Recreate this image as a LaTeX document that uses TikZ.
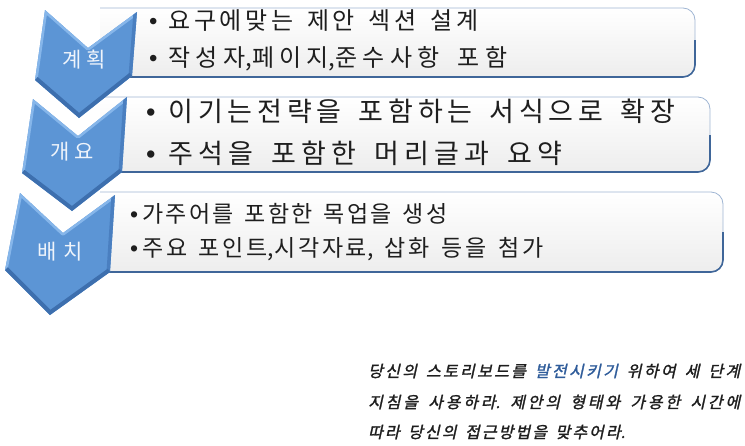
\documentclass[tikz,border=0pt]{standalone}
\usepackage{fontspec}
\setmainfont{Noto Sans CJK KR}
\newfontfamily\notefont[FakeSlant=0.22,FakeBold=1.6]{Noto Sans CJK KR}
\newfontfamily\bulletfont{Liberation Sans}
% stretchable gap between Hangul syllables
\newXeTeXintercharclass\hclass
\newcount\hcnt
\hcnt="AC00
\loop
  \XeTeXcharclass\hcnt=\hclass
  \advance\hcnt by 1
\ifnum\hcnt<"D7A4 \repeat
\newskip\hgap
\hgap=0pt plus 1pt
\XeTeXinterchartoks\hclass\hclass={\hskip\hgap}
\XeTeXinterchartokenstate=1
\definecolor{chev}{HTML}{5C95D5}
\definecolor{chevdark}{HTML}{3D6FAE}
\definecolor{chevright}{HTML}{4A7FC0}
\definecolor{chevlight}{HTML}{86B6EA}
\definecolor{boxedge}{HTML}{9FB5D3}
\definecolor{boxbottom}{HTML}{3F6699}
\definecolor{txt}{HTML}{1E1E1E}
\definecolor{hl}{HTML}{2F5C9A}
\newcommand\spreadline[2]{\makebox[#1][s]{#2}}
\newcommand\bul{{\bulletfont •}}
\newcommand\setsp{\frenchspacing\spaceskip=0.2em plus 2.5pt\relax}
% chevron with bevel: top-left, notch, top-right, right-bottom, tip, left-bottom
\newcommand\chevronshape[6]{%
  \fill[chev] #1 -- #2 -- #3 -- #4 -- #5 -- #6 -- cycle;
  \begin{scope}
    \clip #1 -- #2 -- #3 -- #4 -- #5 -- #6 -- cycle;
    \draw[chevlight, line width=5pt, line join=round] #6 -- #1 -- #2 -- #3;
    \draw[chevright, line width=7pt] #3 -- #4;
    \draw[chevdark, line width=8pt, line join=round] #4 -- #5 -- #6;
  \end{scope}}
\tikzset{
  boxshape/.style={top color=white, bottom color=gray!14, draw=boxedge, line width=0.8pt, rounded corners=12pt},
  boxbot/.style={draw=boxbottom, line width=1.6pt, rounded corners=12pt},
  chevlabel/.style={text=white!90!chev, font={\fontsize{21}{21}\selectfont\setsp}, inner sep=0pt},
  itemtxt/.style={text=txt, anchor=west, inner sep=0pt},
  sizeA/.style={font={\fontsize{24}{24}\selectfont\setsp}},
  sizeB/.style={font={\fontsize{27}{27}\selectfont\setsp}},
  sizeC/.style={font={\fontsize{23}{23}\selectfont\setsp}},
  noteline/.style={text=txt, anchor=west, inner sep=0pt, font={\notefont\fontsize{16}{16}\selectfont\setsp}},
}
\begin{document}
\begin{tikzpicture}[x=1pt,y=-1pt]
\useasboundingbox (0,0) rectangle (745,445);
% boxes
\path[boxshape] (100,8) -- (695,8) -- (695,77) -- (100,77);
\path[boxbot] (130,77) -- (695,77) -- (695,40);
\path[boxshape] (100,97) -- (710,97) -- (710,172) -- (100,172);
\path[boxbot] (120,172) -- (710,172) -- (710,135);
\path[boxshape] (100,192) -- (723,192) -- (723,272) -- (100,272);
\path[boxbot] (108,272) -- (723,272) -- (723,232);
% chevrons
\chevronshape{(45,10)}{(88,48)}{(137,12)}{(132,76)}{(79,118)}{(35,80)}
\chevronshape{(33,99)}{(78,136)}{(127,97)}{(122,172)}{(72,211)}{(22,173)}
\chevronshape{(20,193)}{(63,233)}{(115,195)}{(110,272)}{(50,315)}{(5,270)}
\node[chevlabel] (l1) at (84,60) {\spreadline{43pt}{계획}};
\node[chevlabel] (l2) at (72,152) {\spreadline{44pt}{개요}};
\node[chevlabel] (l3) at (60,252) {\spreadline{45pt}{배치}};
% box texts
\node[itemtxt, sizeA] (a1) at (149,21) {\spreadline{329pt}{\bul\hspace{11pt}요구에맞는 제안 섹션 설계}};
\node[itemtxt, sizeA] (a2) at (149,59) {\spreadline{358pt}{\bul\hspace{11pt}작성자,페이지,준수사항 포함}};
\node[itemtxt, sizeB] (b1) at (146,111) {\spreadline{529pt}{\bul\hspace{13pt}이기는전략을 포함하는 서식으로 확장}};
\node[itemtxt, sizeB] (b2) at (146,153) {\spreadline{416pt}{\bul\hspace{13pt}주석을 포함한 머리글과 요약}};
\node[itemtxt, sizeC] (c1) at (130,214) {\spreadline{317pt}{\bul\hspace{4pt}가주어를 포함한 목업을 생성}};
\node[itemtxt, sizeC] (c2) at (130,249) {\spreadline{413pt}{\bul\hspace{4pt}주요 포인트,시각자료, 삽화 등을 첨가}};
% note
\node[noteline] (n1) at (368,371) {\spreadline{372pt}{당신의 스토리보드를 \textcolor{hl}{발전시키기} 위하여 세 단계}};
\node[noteline] (n2) at (368,402) {\spreadline{372pt}{지침을 사용하라. 제안의 형태와 가용한 시간에}};
\node[noteline] (n3) at (368,432) {\spreadline{257pt}{따라 당신의 접근방법을 맞추어라.}};
\end{tikzpicture}
\end{document}
